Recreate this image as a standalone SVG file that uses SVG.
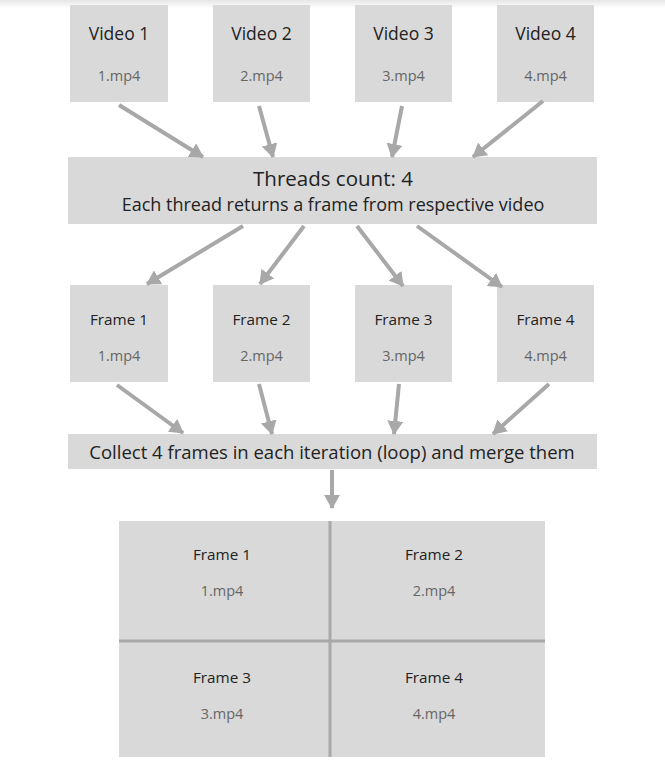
<svg xmlns="http://www.w3.org/2000/svg" width="665" height="766" viewBox="0 0 665 766">
<defs>
<linearGradient id="topShade" x1="0" y1="0" x2="0" y2="1">
<stop offset="0" stop-color="#e6e6e6"/>
<stop offset="1" stop-color="#ffffff"/>
</linearGradient>
<marker id="ah" markerUnits="userSpaceOnUse" markerWidth="16" markerHeight="16" refX="13" refY="8" orient="auto">
<path d="M0,0 L14,8 L0,16 Z" fill="#a8a8a8"/>
</marker>
</defs>
<style>
.box{fill:#d9d9d9;}
.t{font-family:"Open Sans","Noto Sans","Liberation Sans",sans-serif;fill:#222;text-anchor:middle;}
.s{font-family:"Open Sans","Noto Sans","Liberation Sans",sans-serif;fill:#666;text-anchor:middle;font-size:14.5px;}
.vt{font-size:17.5px;}
.ft{font-size:15.3px;}
.conn{stroke:#a8a8a8;stroke-width:4;fill:none;marker-end:url(#ah);}
.div{stroke:#a8a8a8;stroke-width:3;}
</style>
<rect x="0" y="0" width="665" height="8" fill="url(#topShade)"/>

<g id="video1"><rect class="box" x="70" y="5" width="98" height="97"/><text class="t vt" x="119" y="40">Video 1</text><text class="s" x="119" y="81">1.mp4</text></g>
<g id="video2"><rect class="box" x="213" y="5" width="97" height="97"/><text class="t vt" x="261.5" y="40">Video 2</text><text class="s" x="261.5" y="81">2.mp4</text></g>
<g id="video3"><rect class="box" x="355" y="5" width="97" height="97"/><text class="t vt" x="403.5" y="40">Video 3</text><text class="s" x="403.5" y="81">3.mp4</text></g>
<g id="video4"><rect class="box" x="497" y="5" width="97" height="97"/><text class="t vt" x="545.5" y="40">Video 4</text><text class="s" x="545.5" y="81">4.mp4</text></g>

<g id="threads"><rect class="box" x="68" y="157" width="529" height="67"/><text class="t" x="333" y="186" font-size="20.5">Threads count: 4</text><text class="t" x="333" y="211" font-size="18" fill="#333">Each thread returns a frame from respective video</text></g>

<g id="frame1"><rect class="box" x="70" y="285" width="98" height="97"/><text class="t ft" x="119" y="325">Frame 1</text><text class="s" x="119" y="361">1.mp4</text></g>
<g id="frame2"><rect class="box" x="213" y="285" width="97" height="97"/><text class="t ft" x="261.5" y="325">Frame 2</text><text class="s" x="261.5" y="361">2.mp4</text></g>
<g id="frame3"><rect class="box" x="355" y="285" width="97" height="97"/><text class="t ft" x="403.5" y="325">Frame 3</text><text class="s" x="403.5" y="361">3.mp4</text></g>
<g id="frame4"><rect class="box" x="497" y="285" width="97" height="97"/><text class="t ft" x="545.5" y="325">Frame 4</text><text class="s" x="545.5" y="361">4.mp4</text></g>

<g id="collect"><rect class="box" x="68" y="434" width="529" height="35"/><text class="t" x="332" y="458.5" font-size="18.5">Collect 4 frames in each iteration (loop) and merge them</text></g>

<g id="merged">
<rect class="box" x="119" y="521" width="426" height="236"/>
<line class="div" x1="330" y1="521" x2="330" y2="757"/>
<line class="div" x1="119" y1="641" x2="545" y2="641"/>
<text class="t ft" x="222" y="560">Frame 1</text><text class="s" x="222" y="596">1.mp4</text>
<text class="t ft" x="434" y="560">Frame 2</text><text class="s" x="434" y="596">2.mp4</text>
<text class="t ft" x="222" y="683">Frame 3</text><text class="s" x="222" y="719">3.mp4</text>
<text class="t ft" x="434" y="683">Frame 4</text><text class="s" x="434" y="719">4.mp4</text>
</g>

<g id="connectors">
<line class="conn" x1="119" y1="105" x2="203" y2="157"/>
<line class="conn" x1="259" y1="106" x2="273" y2="157"/>
<line class="conn" x1="402" y1="106" x2="392" y2="157"/>
<line class="conn" x1="543" y1="101" x2="473" y2="157"/>
<line class="conn" x1="243" y1="226" x2="147" y2="284"/>
<line class="conn" x1="304" y1="226" x2="260" y2="284"/>
<line class="conn" x1="357" y1="226" x2="403" y2="286"/>
<line class="conn" x1="417" y1="226" x2="502" y2="287"/>
<line class="conn" x1="117" y1="385" x2="183" y2="433"/>
<line class="conn" x1="259" y1="384" x2="272" y2="434"/>
<line class="conn" x1="399" y1="384" x2="394" y2="434"/>
<line class="conn" x1="549" y1="384" x2="493" y2="434"/>
<line class="conn" x1="332" y1="470" x2="332" y2="508"/>
</g>
</svg>
